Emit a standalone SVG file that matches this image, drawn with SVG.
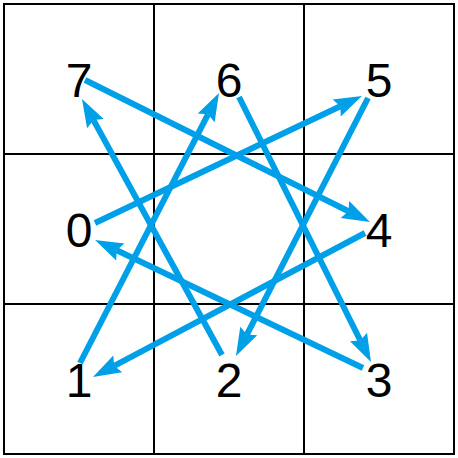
<svg xmlns="http://www.w3.org/2000/svg" width="458" height="458" viewBox="0 0 458 458">
<style>
.grid{fill:none;stroke:#000;stroke-width:2}
.arr{fill:none;stroke:#00A0E9;stroke-width:6;marker-end:url(#ah)}
.lbl{font-family:"Liberation Sans",Arial,Helvetica,sans-serif;font-size:48px;fill:#000;text-anchor:middle}
</style>
<defs>
<marker id="ah" viewBox="-5 -10 30 20" markerWidth="30" markerHeight="20" refX="0" refY="0" orient="auto" markerUnits="userSpaceOnUse" overflow="visible">
<path d="M24,0 L-4,-9.5 L0,0 L-4,9.5 Z" fill="#00A0E9"/>
</marker>
</defs>
<rect x="0" y="0" width="458" height="458" fill="#fff"/>
<g id="grid">
<rect class="grid" x="4" y="4" width="450" height="450"/>
<line class="grid" x1="154" y1="4" x2="154" y2="454"/>
<line class="grid" x1="304" y1="4" x2="304" y2="454"/>
<line class="grid" x1="4" y1="154" x2="454" y2="154"/>
<line class="grid" x1="4" y1="304" x2="454" y2="304"/>
</g>
<g id="connectors">
<line class="arr" x1="95" y1="223" x2="340.3" y2="106.3"/>
<line class="arr" x1="368" y1="98" x2="246.9" y2="334.6"/>
<line class="arr" x1="222" y1="355" x2="93.5" y2="120.1"/>
<line class="arr" x1="85" y1="80" x2="348.5" y2="211.3"/>
<line class="arr" x1="365" y1="233" x2="114.2" y2="365.8"/>
<line class="arr" x1="80" y1="363" x2="208" y2="114.3"/>
<line class="arr" x1="239" y1="97" x2="360.3" y2="340.5"/>
<line class="arr" x1="363" y1="368" x2="116.7" y2="250.3"/>
</g>
<g id="n7"><text class="lbl" x="79" y="97">7</text></g>
<g id="n6"><text class="lbl" x="229" y="97">6</text></g>
<g id="n5"><text class="lbl" x="379" y="97">5</text></g>
<g id="n0"><text class="lbl" x="79" y="247">0</text></g>
<g id="n4"><text class="lbl" x="379" y="247">4</text></g>
<g id="n1"><text class="lbl" x="79" y="397">1</text></g>
<g id="n2"><text class="lbl" x="229" y="397">2</text></g>
<g id="n3"><text class="lbl" x="379" y="397">3</text></g>
</svg>
